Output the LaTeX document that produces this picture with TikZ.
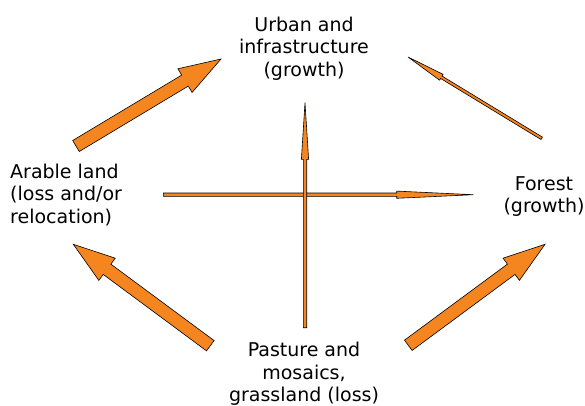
\documentclass[tikz,border=0pt]{standalone}
\usepackage{fontspec}
\setmainfont{DejaVu Sans}
\usepackage{tikz}
\usetikzlibrary{calc}
\usepackage{xcolor}
\definecolor{landorange}{RGB}{245,134,31}

% block arrow: tail, tip, half shaft, half head, head length
\newcommand{\landflow}[5]{%
  \filldraw[flow] ($(#1)!#3!90:(#2)$)
    -- ($(#2)!#5!(#1)!#3!90:(#2)$)
    -- ($(#2)!#5!(#1)!#4!90:(#2)$)
    -- (#2)
    -- ($(#2)!#5!(#1)!#4!-90:(#2)$)
    -- ($(#2)!#5!(#1)!#3!-90:(#2)$)
    -- ($(#1)!#3!-90:(#2)$) -- cycle;}

\begin{document}
\begin{tikzpicture}[x=1pt, y=-1pt,
  every node/.style={font=\fontsize{19}{22.5}\selectfont, inner sep=0pt},
  flow/.style={fill=landorange, draw=black, line width=0.6pt}]
\useasboundingbox (0,0) rectangle (585,405);
% land use classes
\node[align=center, anchor=base] (urban) at (304,76) {Urban and\\infrastructure\\(growth)};
\node[align=left, anchor=base west] (arable) at (10,223) {Arable land\\(loss and/or\\relocation)};
\node[align=center, anchor=base] (forest) at (544,212.5) {Forest\\(growth)};
\node[align=center, anchor=base] (pasture) at (304,401.5) {Pasture and\\mosaics,\\grassland (loss)};
% arrow ends
\coordinate (ar-tail) at (76,146);
\coordinate (ar-tip) at (221,59);
\coordinate (fo-tail) at (541.7,138.3);
\coordinate (fo-tip) at (408,57);
\coordinate (pa-up-tail) at (305,327.7);
\coordinate (pa-up-tip) at (305,102.7);
\coordinate (ar-fo-tail) at (163.3,194.7);
\coordinate (ar-fo-tip) at (473.3,194.7);
\coordinate (pa-ar-tail) at (210.3,345.7);
\coordinate (pa-ar-tip) at (73.3,244.3);
\coordinate (pa-fo-tail) at (408.3,345.3);
\coordinate (pa-fo-tip) at (545,244.3);
% flows
\landflow{ar-tail}{ar-tip}{6.4pt}{13.8pt}{42pt}
\landflow{pa-ar-tail}{pa-ar-tip}{6.4pt}{13.8pt}{42pt}
\landflow{pa-fo-tail}{pa-fo-tip}{6.4pt}{13.8pt}{42pt}
\landflow{fo-tail}{fo-tip}{1.4pt}{3.4pt}{39pt}
\landflow{ar-fo-tail}{ar-fo-tip}{1.7pt}{3.6pt}{76.6pt}
\landflow{pa-up-tail}{pa-up-tip}{1.7pt}{3.6pt}{56.6pt}
\end{tikzpicture}
\end{document}
